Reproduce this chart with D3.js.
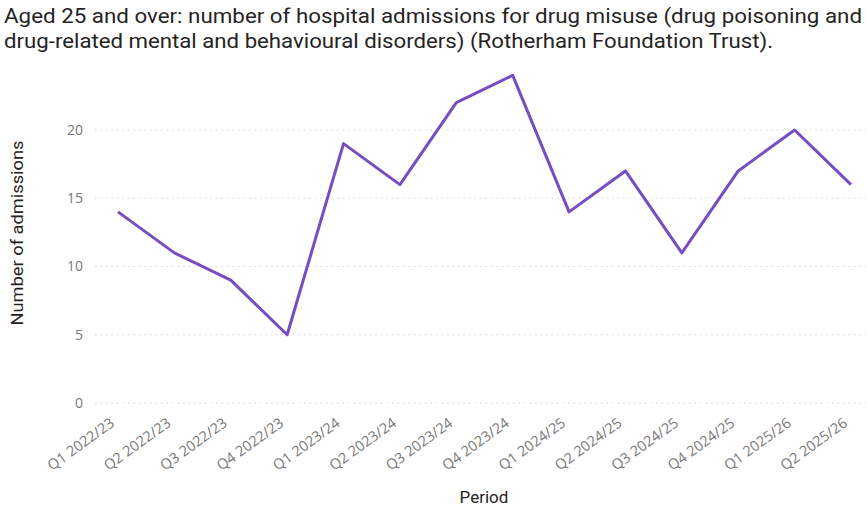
<!DOCTYPE html>
<html>
<head>
<meta charset="utf-8">
<script src="https://cdn.jsdelivr.net/npm/d3@7"></script>
<style>
  body { margin: 0; background: #fff; }
</style>
</head>
<body>
<div id="chart"></div>
<script>
'use strict';

const titleLines = [
  'Aged 25 and over: number of hospital admissions for drug misuse (drug poisoning and',
  'drug-related mental and behavioural disorders) (Rotherham Foundation Trust).'
];
const titleWidths = [858, 769];
const periods = [
  'Q1 2022/23', 'Q2 2022/23', 'Q3 2022/23', 'Q4 2022/23',
  'Q1 2023/24', 'Q2 2023/24', 'Q3 2023/24', 'Q4 2023/24',
  'Q1 2024/25', 'Q2 2024/25', 'Q3 2024/25', 'Q4 2024/25',
  'Q1 2025/26', 'Q2 2025/26'
];
const admissions = [14, 11, 9, 5, 19, 16, 22, 24, 14, 17, 11, 17, 20, 16];
const yTicks = [0, 5, 10, 15, 20];

const width = 867;
const height = 507;

const svg = d3.select('#chart')
  .append('svg')
  .attr('width', width)
  .attr('height', height);

// title, stretched to the width it takes in the original
svg.append('g')
  .selectAll('text')
  .data(titleLines)
  .join('text')
  .attr('x', 4)
  .attr('y', (d, i) => 23 + i * 25)
  .attr('font-family', 'Roboto, sans-serif')
  .attr('font-size', '20px')
  .attr('fill', '#252423')
  .attr('textLength', (d, i) => titleWidths[i])
  .attr('lengthAdjust', 'spacingAndGlyphs')
  .text(d => d);

const x = d3.scalePoint()
  .domain(periods)
  .range([118, 851]);

const y = d3.scaleLinear()
  .domain([0, 20])
  .range([403, 130]);

// gridlines
svg.append('g')
  .selectAll('line')
  .data(yTicks)
  .join('line')
  .attr('x1', 95)
  .attr('x2', 866)
  .attr('y1', d => y(d))
  .attr('y2', d => y(d))
  .attr('stroke', '#d6d6d6')
  .attr('stroke-width', 1)
  .attr('stroke-dasharray', '1.5,4');

// y axis
const yAxis = svg.append('g')
  .attr('transform', 'translate(83,0)')
  .call(d3.axisLeft(y).tickValues(yTicks).tickSize(0).tickPadding(0));
yAxis.select('.domain').remove();
yAxis.selectAll('text')
  .attr('font-family', '"Open Sans", sans-serif')
  .attr('font-size', '14px')
  .attr('fill', '#777');

// x axis
const xAxis = svg.append('g')
  .attr('transform', 'translate(0,408)')
  .call(d3.axisBottom(x).tickSize(0).tickPadding(0));
xAxis.select('.domain').remove();
xAxis.selectAll('text')
  .attr('font-family', '"Open Sans", sans-serif')
  .attr('font-size', '14.5px')
  .attr('fill', '#777')
  .attr('text-anchor', 'end')
  .attr('y', 0)
  .attr('dy', 0)
  .attr('transform', 'translate(-3,17) rotate(-36)');

// axis titles
svg.append('text')
  .attr('transform', 'translate(23,233) rotate(-90)')
  .attr('text-anchor', 'middle')
  .attr('font-family', 'Roboto, sans-serif')
  .attr('font-size', '17px')
  .attr('fill', '#252423')
  .attr('textLength', 185)
  .attr('lengthAdjust', 'spacingAndGlyphs')
  .text('Number of admissions');

svg.append('text')
  .attr('x', 484)
  .attr('y', 503)
  .attr('text-anchor', 'middle')
  .attr('font-family', 'Roboto, sans-serif')
  .attr('font-size', '17px')
  .attr('fill', '#252423')
  .text('Period');

// line
const line = d3.line()
  .x((d, i) => x(periods[i]))
  .y(d => y(d));

svg.append('path')
  .datum(admissions)
  .attr('d', line)
  .attr('fill', 'none')
  .attr('stroke', '#744ec2')
  .attr('stroke-width', 3)
  .attr('stroke-linejoin', 'round');
</script>
</body>
</html>
